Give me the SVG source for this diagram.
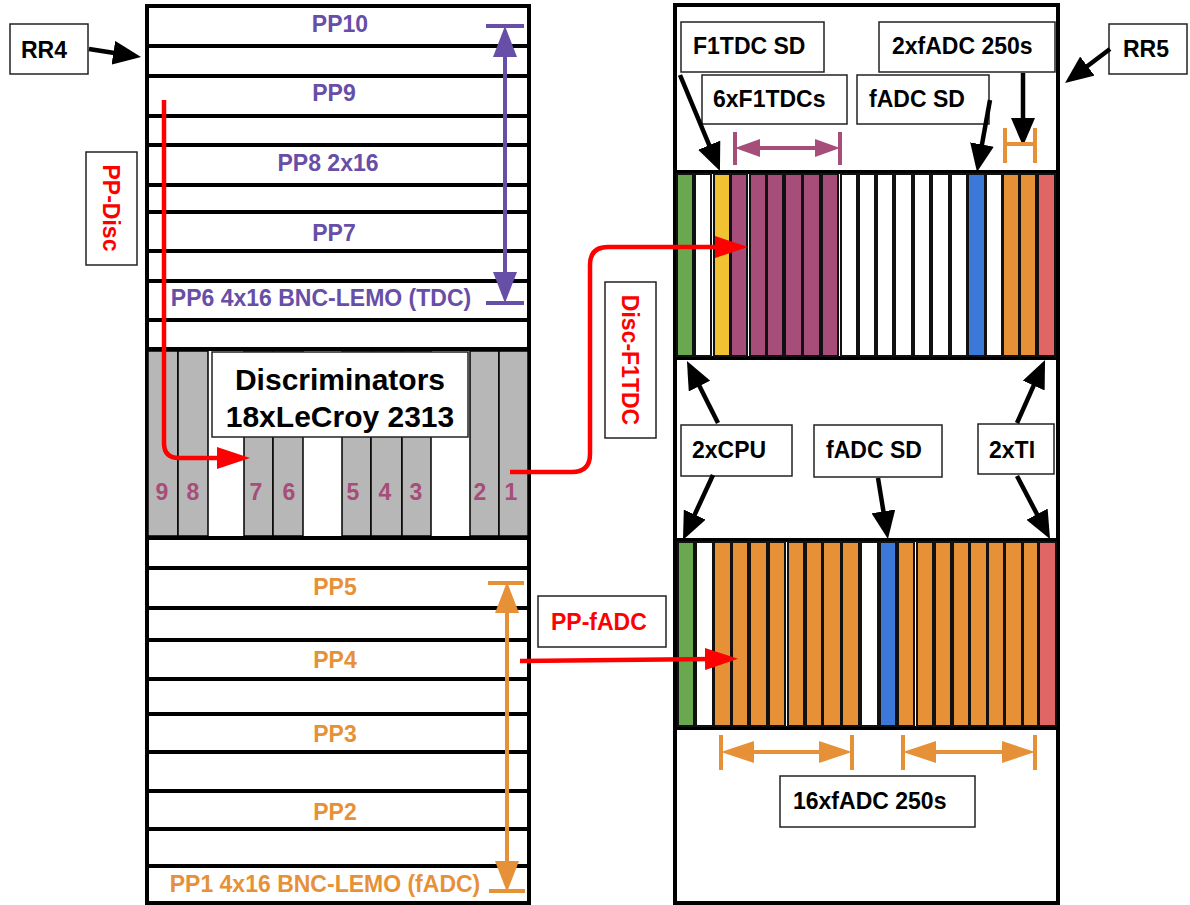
<svg xmlns="http://www.w3.org/2000/svg" width="1190" height="905" viewBox="0 0 1190 905">
<style>
.rk{fill:#fff;stroke:#000;stroke-width:4}
.lb{fill:#fff;stroke:#222;stroke-width:1.5}
.t{font-family:"Liberation Sans",Arial,sans-serif;font-weight:bold;font-size:23px}
.big{font-size:30px}
.num{font-size:23px;fill:#a64d79}
.pu{fill:#674ea7}
.or{fill:#e69138}
.rd{fill:#ff0000}
.ds{fill:#b7b7b7;stroke:#000;stroke-width:1.5}
.sl{stroke:#111;stroke-width:2}
.g{fill:#6aa84f}.y{fill:#f1c232}.m{fill:#a64d79}.w{fill:#fff}.b{fill:#3c78d8}.o{fill:#e69138}.r{fill:#e06666}
.cb{fill:none;stroke:#000;stroke-width:4.5;marker-end:url(#ahK)}
.cr{fill:none;stroke:#ff0000;stroke-width:4.5;marker-end:url(#ahR)}
.bar{stroke-width:4;fill:none}
</style>
<defs>
<marker id="ahK" markerUnits="userSpaceOnUse" viewBox="0 0 28 24" refX="6" refY="12" markerWidth="28" markerHeight="24" orient="auto"><path d="M0,0 L28,12 L0,24 z" fill="#000"/></marker>
<marker id="ahR" markerUnits="userSpaceOnUse" viewBox="0 0 33 22" refX="8" refY="11" markerWidth="33" markerHeight="22" orient="auto"><path d="M0,0 L33,11 L0,22 z" fill="#ff0000"/></marker>
<marker id="ahP" markerUnits="userSpaceOnUse" viewBox="0 0 31 24" refX="8" refY="12" markerWidth="31" markerHeight="24" orient="auto-start-reverse"><path d="M0,0 L31,12 L0,24 z" fill="#674ea7"/></marker>
<marker id="ahPs" markerUnits="userSpaceOnUse" viewBox="0 0 25 18" refX="8" refY="9" markerWidth="25" markerHeight="18" orient="auto-start-reverse"><path d="M0,0 L25,9 L0,18 z" fill="#a64d79"/></marker>
<marker id="ahO" markerUnits="userSpaceOnUse" viewBox="0 0 31 24" refX="8" refY="12" markerWidth="31" markerHeight="24" orient="auto-start-reverse"><path d="M0,0 L31,12 L0,24 z" fill="#e69138"/></marker>
<marker id="ahOh" markerUnits="userSpaceOnUse" viewBox="0 0 33 22" refX="8" refY="11" markerWidth="33" markerHeight="22" orient="auto-start-reverse"><path d="M0,0 L33,11 L0,22 z" fill="#e69138"/></marker>
</defs>

<g id="rack-rr4">
<rect class="rk" x="147" y="6" width="382" height="40"/>
<rect class="rk" x="147" y="46" width="382" height="30"/>
<rect class="rk" x="147" y="76" width="382" height="40"/>
<rect class="rk" x="147" y="116" width="382" height="29"/>
<rect class="rk" x="147" y="145" width="382" height="40"/>
<rect class="rk" x="147" y="185" width="382" height="27"/>
<rect class="rk" x="147" y="212" width="382" height="39"/>
<rect class="rk" x="147" y="251" width="382" height="30"/>
<rect class="rk" x="147" y="281" width="382" height="39"/>
<rect class="rk" x="147" y="320" width="382" height="29"/>
<rect class="rk" x="147" y="538" width="382" height="30"/>
<rect class="rk" x="147" y="568" width="382" height="40"/>
<rect class="rk" x="147" y="608" width="382" height="32"/>
<rect class="rk" x="147" y="640" width="382" height="39"/>
<rect class="rk" x="147" y="679" width="382" height="35"/>
<rect class="rk" x="147" y="714" width="382" height="38"/>
<rect class="rk" x="147" y="752" width="382" height="39"/>
<rect class="rk" x="147" y="791" width="382" height="38"/>
<rect class="rk" x="147" y="829" width="382" height="37"/>
<rect class="rk" x="147" y="866" width="382" height="37"/>
<text class="t pu" x="340" y="32" text-anchor="middle">PP10</text>
<text class="t pu" x="334" y="101" text-anchor="middle">PP9</text>
<text class="t pu" x="328" y="171" text-anchor="middle">PP8 2x16</text>
<text class="t pu" x="334" y="241" text-anchor="middle">PP7</text>
<text class="t pu" x="321" y="306" text-anchor="middle">PP6 4x16 BNC-LEMO (TDC)</text>
<text class="t or" x="335" y="595" text-anchor="middle">PP5</text>
<text class="t or" x="335" y="668" text-anchor="middle">PP4</text>
<text class="t or" x="335" y="742" text-anchor="middle">PP3</text>
<text class="t or" x="335" y="820" text-anchor="middle">PP2</text>
<text class="t or" x="325" y="892" text-anchor="middle">PP1 4x16 BNC-LEMO (fADC)</text>
</g>

<g id="discriminators">
<rect class="rk" x="147" y="349" width="382" height="189"/>
<rect class="ds" x="148" y="351" width="30" height="185"/>
<rect class="ds" x="178" y="351" width="30" height="185"/>
<rect class="ds" x="244" y="351" width="29" height="185"/>
<rect class="ds" x="273" y="351" width="30" height="185"/>
<rect class="ds" x="342" y="351" width="29" height="185"/>
<rect class="ds" x="371" y="351" width="31" height="185"/>
<rect class="ds" x="402" y="351" width="29" height="185"/>
<rect class="ds" x="470" y="351" width="29" height="185"/>
<rect class="ds" x="499" y="351" width="29" height="185"/>
<rect class="lb" x="212" y="352" width="256" height="85"/>
<text class="t big" x="340" y="390" text-anchor="middle">Discriminators</text>
<text class="t big" x="340" y="427" text-anchor="middle">18xLeCroy 2313</text>
<text class="t num" x="162" y="500" text-anchor="middle">9</text>
<text class="t num" x="193" y="500" text-anchor="middle">8</text>
<text class="t num" x="256" y="500" text-anchor="middle">7</text>
<text class="t num" x="289" y="500" text-anchor="middle">6</text>
<text class="t num" x="353" y="500" text-anchor="middle">5</text>
<text class="t num" x="385" y="500" text-anchor="middle">4</text>
<text class="t num" x="416" y="500" text-anchor="middle">3</text>
<text class="t num" x="480" y="500" text-anchor="middle">2</text>
<text class="t num" x="511" y="500" text-anchor="middle">1</text>
</g>

<g id="rack-rr5">
<rect class="rk" x="675" y="5" width="383" height="167"/>
<rect class="rk" x="675" y="358" width="383" height="182"/>
<rect class="rk" x="675" y="728" width="383" height="175"/>
</g>

<g id="crate-top">
<rect class="rk" x="675" y="172" width="383" height="186"/>
<g class="sl">
<rect class="g" x="677" y="174" width="16" height="182"/>
<rect class="w" x="695" y="174" width="16" height="182"/>
<rect class="y" x="714" y="174" width="16" height="182"/>
<rect class="m" x="731" y="174" width="16" height="182"/>
<rect class="m" x="750" y="174" width="16" height="182"/>
<rect class="m" x="767" y="174" width="16" height="182"/>
<rect class="m" x="785" y="174" width="17" height="182"/>
<rect class="m" x="803" y="174" width="17" height="182"/>
<rect class="m" x="822" y="174" width="16" height="182"/>
<rect class="w" x="841" y="174" width="16" height="182"/>
<rect class="w" x="859" y="174" width="16" height="182"/>
<rect class="w" x="877" y="174" width="16" height="182"/>
<rect class="w" x="895" y="174" width="17" height="182"/>
<rect class="w" x="914" y="174" width="16" height="182"/>
<rect class="w" x="932" y="174" width="17" height="182"/>
<rect class="w" x="951" y="174" width="16" height="182"/>
<rect class="b" x="968" y="174" width="17" height="182"/>
<rect class="w" x="986" y="174" width="16" height="182"/>
<rect class="o" x="1003" y="174" width="16" height="182"/>
<rect class="o" x="1020" y="174" width="16" height="182"/>
<rect class="r" x="1038" y="174" width="17" height="182"/>
</g>
</g>

<g id="crate-bottom">
<rect class="rk" x="675" y="540" width="383" height="188"/>
<g class="sl">
<rect class="g" x="678" y="542" width="16" height="184"/>
<rect class="w" x="696" y="542" width="17" height="184"/>
<rect class="o" x="714" y="542" width="17" height="184"/>
<rect class="o" x="732" y="542" width="16" height="184"/>
<rect class="o" x="750" y="542" width="17" height="184"/>
<rect class="o" x="769" y="542" width="16" height="184"/>
<rect class="o" x="788" y="542" width="16" height="184"/>
<rect class="o" x="806" y="542" width="16" height="184"/>
<rect class="o" x="823" y="542" width="18" height="184"/>
<rect class="o" x="842" y="542" width="17" height="184"/>
<rect class="w" x="861" y="542" width="17" height="184"/>
<rect class="b" x="880" y="542" width="16" height="184"/>
<rect class="o" x="898" y="542" width="16" height="184"/>
<rect class="o" x="917" y="542" width="16" height="184"/>
<rect class="o" x="935" y="542" width="16" height="184"/>
<rect class="o" x="953" y="542" width="16" height="184"/>
<rect class="o" x="970" y="542" width="17" height="184"/>
<rect class="o" x="988" y="542" width="16" height="184"/>
<rect class="o" x="1005" y="542" width="17" height="184"/>
<rect class="o" x="1023" y="542" width="15" height="184"/>
<rect class="r" x="1039" y="542" width="17" height="184"/>
</g>
</g>

<g id="label-rr4"><rect class="lb" x="10" y="24" width="78" height="50"/><text class="t" x="21" y="58">RR4</text></g>
<g id="label-rr5"><rect class="lb" x="1109" y="24" width="78" height="50"/><text class="t" x="1123" y="57">RR5</text></g>
<g id="label-ppdisc"><rect class="lb" x="86" y="152" width="51" height="113"/><text class="t rd" transform="translate(111,208) rotate(90)" x="0" y="8" text-anchor="middle">PP-Disc</text></g>
<g id="label-discf1tdc"><rect class="lb" x="605" y="282" width="51" height="156"/><text class="t rd" transform="translate(630,360) rotate(90)" x="0" y="8" text-anchor="middle">Disc-F1TDC</text></g>
<g id="label-ppfadc"><rect class="lb" x="538" y="596" width="128" height="51"/><text class="t rd" x="551" y="630">PP-fADC</text></g>
<g id="label-f1tdcsd"><rect class="lb" x="681" y="22" width="143" height="50"/><text class="t" x="693" y="54">F1TDC SD</text></g>
<g id="label-6xf1tdcs"><rect class="lb" x="702" y="75" width="145" height="49"/><text class="t" x="713" y="107">6xF1TDCs</text></g>
<g id="label-fadcsd-top"><rect class="lb" x="857" y="75" width="132" height="49"/><text class="t" x="869" y="107">fADC SD</text></g>
<g id="label-2xfadc"><rect class="lb" x="879" y="22" width="176" height="50"/><text class="t" x="892" y="54">2xfADC 250s</text></g>
<g id="label-2xcpu"><rect class="lb" x="681" y="425" width="111" height="51"/><text class="t" x="692" y="458">2xCPU</text></g>
<g id="label-fadcsd-mid"><rect class="lb" x="814" y="425" width="128" height="52"/><text class="t" x="826" y="458">fADC SD</text></g>
<g id="label-2xti"><rect class="lb" x="978" y="424" width="76" height="50"/><text class="t" x="989" y="458">2xTI</text></g>
<g id="label-16xfadc"><rect class="lb" x="780" y="776" width="195" height="51"/><text class="t" x="793" y="809">16xfADC 250s</text></g>

<g id="connectors">
<path class="cr" d="M164,100 V443 Q164,458 179,458 H225"/>
<path class="cr" d="M510,472 H572 Q590,472 590,454 V265 Q590,247 608,247 H723"/>
<path class="cr" d="M520,661 L713,659"/>
<line class="cb" x1="89" y1="49" x2="119.3" y2="53.7"/>
<line class="cb" x1="1110" y1="49" x2="1082.6" y2="69.7"/>
<line class="cb" x1="680" y1="75" x2="711.5" y2="150.7"/>
<line class="cb" x1="990" y1="100" x2="980.9" y2="150.4"/>
<line class="cb" x1="1023" y1="73" x2="1023" y2="124"/>
<line class="cb" x1="718" y1="423" x2="696.8" y2="380.7"/>
<line class="cb" x1="713" y1="475" x2="692.2" y2="520"/>
<line class="cb" x1="878" y1="478" x2="884.4" y2="517.3"/>
<line class="cb" x1="1017" y1="423" x2="1036.1" y2="380.1"/>
<line class="cb" x1="1017" y1="476" x2="1039.8" y2="519.5"/>
<g stroke="#674ea7" class="bar">
<line x1="505" y1="49" x2="505" y2="280" marker-start="url(#ahP)" marker-end="url(#ahP)"/>
<line x1="486" y1="26" x2="524" y2="26"/>
<line x1="486" y1="303" x2="524" y2="303"/>
</g>
<g stroke="#e69138" class="bar">
<line x1="507" y1="605" x2="507" y2="869" marker-start="url(#ahO)" marker-end="url(#ahO)"/>
<line x1="488" y1="583" x2="524" y2="583"/>
<line x1="489" y1="891" x2="525" y2="891"/>
<line x1="746" y1="752" x2="827" y2="752" marker-start="url(#ahOh)" marker-end="url(#ahOh)"/>
<line x1="721" y1="735" x2="721" y2="770"/>
<line x1="852" y1="735" x2="852" y2="770"/>
<line x1="928" y1="752" x2="1010" y2="752" marker-start="url(#ahOh)" marker-end="url(#ahOh)"/>
<line x1="903" y1="735" x2="903" y2="770"/>
<line x1="1035" y1="735" x2="1035" y2="770"/>
<line x1="1005" y1="128" x2="1005" y2="163"/>
<line x1="1035" y1="128" x2="1035" y2="163"/>
<line x1="1005" y1="144" x2="1035" y2="144"/>
</g>
<g stroke="#a64d79" class="bar">
<line x1="752" y1="148" x2="823" y2="148" marker-start="url(#ahPs)" marker-end="url(#ahPs)"/>
<line x1="735" y1="132" x2="735" y2="165"/>
<line x1="840" y1="132" x2="840" y2="165"/>
</g>
</g>
</svg>
